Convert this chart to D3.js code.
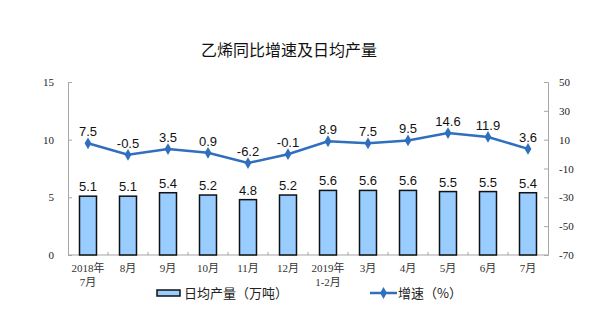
<!DOCTYPE html>
<html>
<head>
<meta charset="utf-8">
<script src="https://cdn.jsdelivr.net/npm/d3@7"></script>
<style>
  html, body { margin: 0; padding: 0; background: #fff; }
  svg { display: block; }
</style>
</head>
<body>
<svg id="chart" width="608" height="334"></svg>
<script>
// Monthly ethylene output and year-on-year growth
const categories = ["2018年\n7月", "8月", "9月", "10月", "11月", "12月", "2019年\n1-2月", "3月", "4月", "5月", "6月", "7月"];
const dailyOutput = [5.1, 5.1, 5.4, 5.2, 4.8, 5.2, 5.6, 5.6, 5.6, 5.5, 5.5, 5.4];
const growthRate = [7.5, -0.5, 3.5, 0.9, -6.2, -0.1, 8.9, 7.5, 9.5, 14.6, 11.9, 3.6];
const leftTicks = [0, 5, 10, 15];
const rightTicks = [-70, -50, -30, -10, 10, 30, 50];
const titleText = "乙烯同比增速及日均产量";
const barLegend = "日均产量（万吨）";
const lineLegend = "增速（%）";

const svg = d3.select("#chart");
const plot = { left: 68, right: 548, top: 82, bottom: 255 };
const axisColor = "#a6a6a6";
const tickFont = "'Liberation Serif', 'Noto Sans CJK SC', serif";
const cjkFont = "'Noto Sans CJK SC', sans-serif";
const lineColor = "#2f6fbd";

const x = d3.scaleBand().domain(categories).range([plot.left, plot.right]).paddingInner(0).paddingOuter(0);
const yLeft = d3.scaleLinear().domain([0, 15]).range([plot.bottom, plot.top]);
const yRight = d3.scaleLinear().domain([-70, 50]).range([plot.bottom, plot.top]);
const plain = d => String(d);

// Title
svg.append("text")
  .attr("x", 289).attr("y", 56)
  .attr("text-anchor", "middle")
  .attr("font-family", cjkFont)
  .attr("font-size", 16)
  .attr("fill", "#111")
  .text(titleText);

// Left axis
const leftAxis = svg.append("g")
  .attr("transform", `translate(${plot.left},0)`)
  .call(d3.axisLeft(yLeft).tickValues(leftTicks).tickFormat(plain).tickSize(-4).tickPadding(14));
leftAxis.select(".domain").attr("stroke", axisColor);
leftAxis.selectAll(".tick line").attr("stroke", axisColor);
leftAxis.selectAll(".tick text")
  .attr("font-family", tickFont).attr("font-size", 11).attr("fill", "#222");

// Right axis
const rightAxis = svg.append("g")
  .attr("transform", `translate(${plot.right},0)`)
  .call(d3.axisRight(yRight).tickValues(rightTicks).tickFormat(plain).tickSize(-4).tickPadding(11));
rightAxis.select(".domain").attr("stroke", axisColor);
rightAxis.selectAll(".tick line").attr("stroke", axisColor);
rightAxis.selectAll(".tick text")
  .attr("font-family", tickFont).attr("font-size", 11).attr("fill", "#222");

// Bottom axis line with ticks between categories
svg.append("line")
  .attr("x1", plot.left).attr("x2", plot.right)
  .attr("y1", plot.bottom).attr("y2", plot.bottom)
  .attr("stroke", axisColor);
svg.append("g").selectAll("line")
  .data(categories.slice(1))
  .join("line")
  .attr("x1", d => x(d)).attr("x2", d => x(d))
  .attr("y1", plot.bottom).attr("y2", plot.bottom - 3)
  .attr("stroke", axisColor);

// Category labels (may wrap onto two lines)
const catLabels = svg.append("g").selectAll("text")
  .data(categories)
  .join("text")
  .attr("x", d => x(d) + x.bandwidth() / 2)
  .attr("y", 272)
  .attr("text-anchor", "middle")
  .attr("font-family", tickFont)
  .attr("font-size", 11)
  .attr("fill", "#333");
catLabels.each(function(d) {
  const parts = d.split("\n");
  const t = d3.select(this);
  parts.forEach((p, i) => {
    t.append("tspan")
      .attr("x", x(d) + x.bandwidth() / 2)
      .attr("dy", i === 0 ? 0 : 14)
      .text(p);
  });
});

// Bars
const barW = 17;
svg.append("g").selectAll("rect")
  .data(dailyOutput)
  .join("rect")
  .attr("x", (d, i) => x(categories[i]) + x.bandwidth() / 2 - barW / 2)
  .attr("y", d => yLeft(d))
  .attr("width", barW)
  .attr("height", d => plot.bottom - yLeft(d))
  .attr("fill", "#99ccff")
  .attr("stroke", "#111")
  .attr("stroke-width", 1.5);

// Bar value labels
svg.append("g").selectAll("text")
  .data(dailyOutput)
  .join("text")
  .attr("x", (d, i) => x(categories[i]) + x.bandwidth() / 2)
  .attr("y", d => yLeft(d) - 5)
  .attr("text-anchor", "middle")
  .attr("font-family", "'Liberation Sans', Arial, sans-serif")
  .attr("font-size", 13)
  .attr("fill", "#111")
  .text(d => d.toFixed(1));

// Growth line
const line = d3.line()
  .x((d, i) => x(categories[i]) + x.bandwidth() / 2)
  .y(d => yRight(d));
svg.append("path")
  .datum(growthRate)
  .attr("d", line)
  .attr("fill", "none")
  .attr("stroke", lineColor)
  .attr("stroke-width", 2.5);

const diamond = d3.symbol().type(d3.symbolDiamond).size(40);
svg.append("g").selectAll("path")
  .data(growthRate)
  .join("path")
  .attr("transform", (d, i) => `translate(${x(categories[i]) + x.bandwidth() / 2},${yRight(d)})`)
  .attr("d", diamond)
  .attr("fill", lineColor);

svg.append("g").selectAll("text")
  .data(growthRate)
  .join("text")
  .attr("x", (d, i) => x(categories[i]) + x.bandwidth() / 2)
  .attr("y", d => yRight(d) - 7)
  .attr("text-anchor", "middle")
  .attr("font-family", "'Liberation Sans', Arial, sans-serif")
  .attr("font-size", 13)
  .attr("fill", "#111")
  .text(d => d.toFixed(1));

// Legend
const legend = svg.append("g");
legend.append("rect")
  .attr("x", 157).attr("y", 290)
  .attr("width", 23).attr("height", 6)
  .attr("fill", "#99ccff").attr("stroke", "#111").attr("stroke-width", 1.5);
legend.append("text")
  .attr("x", 184).attr("y", 298)
  .attr("font-family", cjkFont).attr("font-size", 13).attr("fill", "#222")
  .text(barLegend);
legend.append("line")
  .attr("x1", 370).attr("x2", 397).attr("y1", 293).attr("y2", 293)
  .attr("stroke", lineColor).attr("stroke-width", 2.5);
legend.append("path")
  .attr("transform", "translate(383.5,293)")
  .attr("d", diamond)
  .attr("fill", lineColor);
legend.append("text")
  .attr("x", 398).attr("y", 298)
  .attr("font-family", cjkFont).attr("font-size", 13).attr("fill", "#222")
  .text(lineLegend);
</script>
</body>
</html>
